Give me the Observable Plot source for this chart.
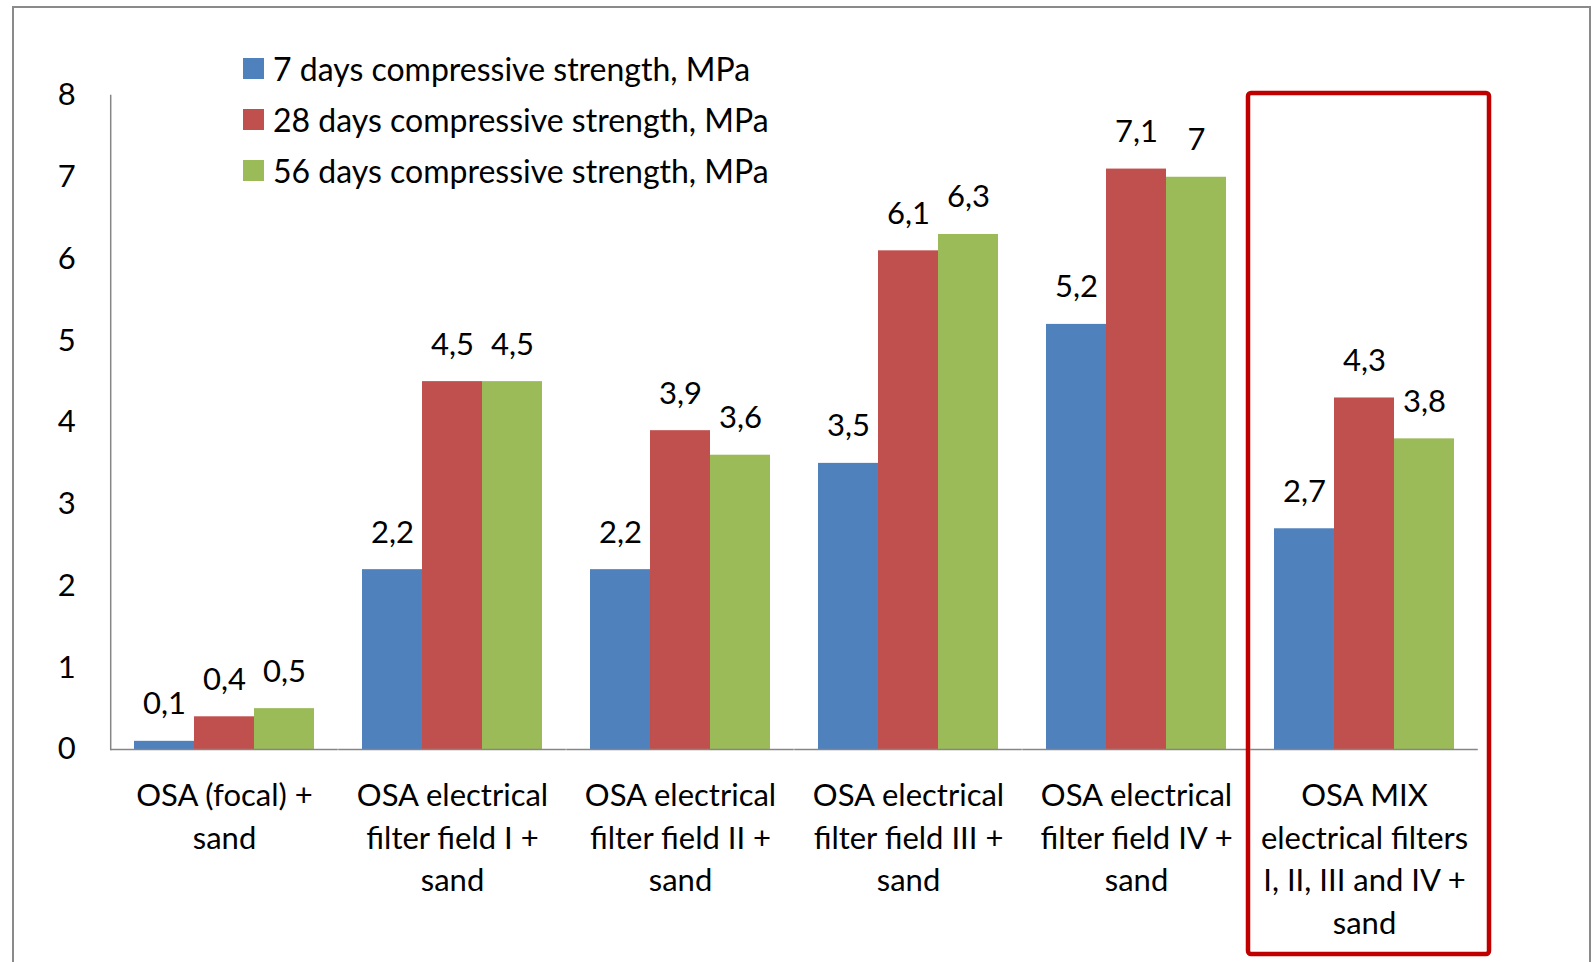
<!DOCTYPE html>
<html>
<head>
<meta charset="utf-8">
<script src="https://cdn.jsdelivr.net/npm/d3@7"></script>
<script src="https://cdn.jsdelivr.net/npm/@observablehq/plot@0.6"></script>
<style>
  html, body { margin: 0; padding: 0; background: #fff; overflow: hidden; }
  body { width: 1593px; height: 962px; position: relative; font-family: Lato, "Open Sans", sans-serif; }
  #border { position: absolute; left: 12px; top: 6px; width: 1579px; height: 1000px; border: 2px solid #8a8a8a; box-sizing: border-box; }
  #chart { position: absolute; left: 0; top: 0; }
  #legend { position: absolute; left: 243px; top: 0; }
  .row { position: absolute; left: 0; white-space: nowrap; display: flex; align-items: center; height: 36px; font-size: 32px; color: #000; }
  .sw { width: 21px; height: 21px; margin-right: 9px; }
</style>
</head>
<body>
<div id="border"></div>
<div id="chart"></div>
<div id="legend"></div>
<script>
// ---- data ----
const categories = [
  "OSA (focal) + sand",
  "OSA electrical filter field I + sand",
  "OSA electrical filter field II + sand",
  "OSA electrical filter field III + sand",
  "OSA electrical filter field IV + sand",
  "OSA MIX electrical filters I, II, III and IV + sand"
];
const categoryLabels = [
  "OSA (focal) +\nsand",
  "OSA electrical\nfilter field I +\nsand",
  "OSA electrical\nfilter field II +\nsand",
  "OSA electrical\nfilter field III +\nsand",
  "OSA electrical\nfilter field IV +\nsand",
  "OSA MIX\nelectrical filters\nI, II, III and IV +\nsand"
];
const series = [
  "7 days compressive strength, MPa",
  "28 days compressive strength, MPa",
  "56 days compressive strength, MPa"
];
const days7 = [0.1, 2.2, 2.2, 3.5, 5.2, 2.7];
const days28 = [0.4, 4.5, 3.9, 6.1, 7.1, 4.3];
const days56 = [0.5, 4.5, 3.6, 6.3, 7, 3.8];
const yTicks = [0, 1, 2, 3, 4, 5, 6, 7, 8];
const colors = ["#4F81BD", "#C0504D", "#9BBB59"];
const highlighted = categories[5];

// ---- table ----
const valuesBySeries = [days7, days28, days56];
const data = [];
categories.forEach((c, i) => series.forEach((s, j) => data.push({category: c, series: s, value: valuesBySeries[j][i]})));
const labelData = categories.map((c, i) => ({category: c, label: categoryLabels[i]}));
const fmt = v => String(v).replace(".", ",");

// ---- layout ----
const W = 1593, H = 962;
const mL = 110, mR = 115, mT = 95, mB = 213;
const pInner = 0.2, pOuter = 0.1;
const step = (W - mL - mR) / (categories.length - pInner + 2 * pOuter);
const halfGap = step * pOuter;
const axisColor = "#868686";
const fs = 31;

const chart = Plot.plot({
  width: W, height: H,
  marginLeft: mL, marginRight: mR, marginTop: mT, marginBottom: mB,
  style: {fontFamily: "Lato, 'Open Sans', sans-serif", fontSize: fs + "px", color: "#000", background: "transparent", overflow: "visible"},
  fx: {domain: categories, paddingInner: pInner, paddingOuter: pOuter, axis: null, label: null},
  x: {domain: series, padding: 0, axis: null},
  y: {domain: [0, 8], axis: null},
  color: {domain: series, range: colors},
  marks: [
    Plot.barY(data, {fx: "category", x: "series", y: "value", fill: "series"}),
    Plot.ruleY([0], {stroke: axisColor, strokeWidth: 1.5, insetLeft: -halfGap, insetRight: -halfGap}),
    Plot.frame({anchor: "left", facetAnchor: "left", stroke: axisColor, strokeWidth: 1.5, dx: -halfGap}),
    Plot.axisY({ticks: yTicks, tickSize: 0, tickPadding: halfGap + 35, fontSize: fs, fill: "#000", label: null, tickFormat: d => String(d)}),
    Plot.text(data, {fx: "category", x: "series", y: "value", text: d => fmt(d.value), dy: -37, fontSize: fs, fill: "#000"}),
    Plot.text(labelData, {fx: "category", text: "label", frameAnchor: "bottom", lineAnchor: "top", dy: 26, lineHeight: 1.38, fontSize: fs, fill: "#000"}),
    Plot.rect([{category: highlighted}], {fx: "category", y1: () => 0, y2: () => 8, fill: "none", stroke: "#C00000", strokeWidth: 4.5, rx: 3,
      insetLeft: -25, insetRight: -34, insetTop: -2, insetBottom: -205})
  ]
});
document.getElementById("chart").appendChild(chart);

// ---- legend ----
const legendCenters = [68, 119, 170];
const legend = document.getElementById("legend");
series.forEach((s, i) => {
  const row = document.createElement("div");
  row.className = "row";
  row.style.top = (legendCenters[i] - 18) + "px";
  const sw = document.createElement("span");
  sw.className = "sw";
  sw.style.background = colors[i];
  const t = document.createElement("span");
  t.textContent = s;
  row.appendChild(sw); row.appendChild(t);
  legend.appendChild(row);
});
</script>
</body>
</html>
